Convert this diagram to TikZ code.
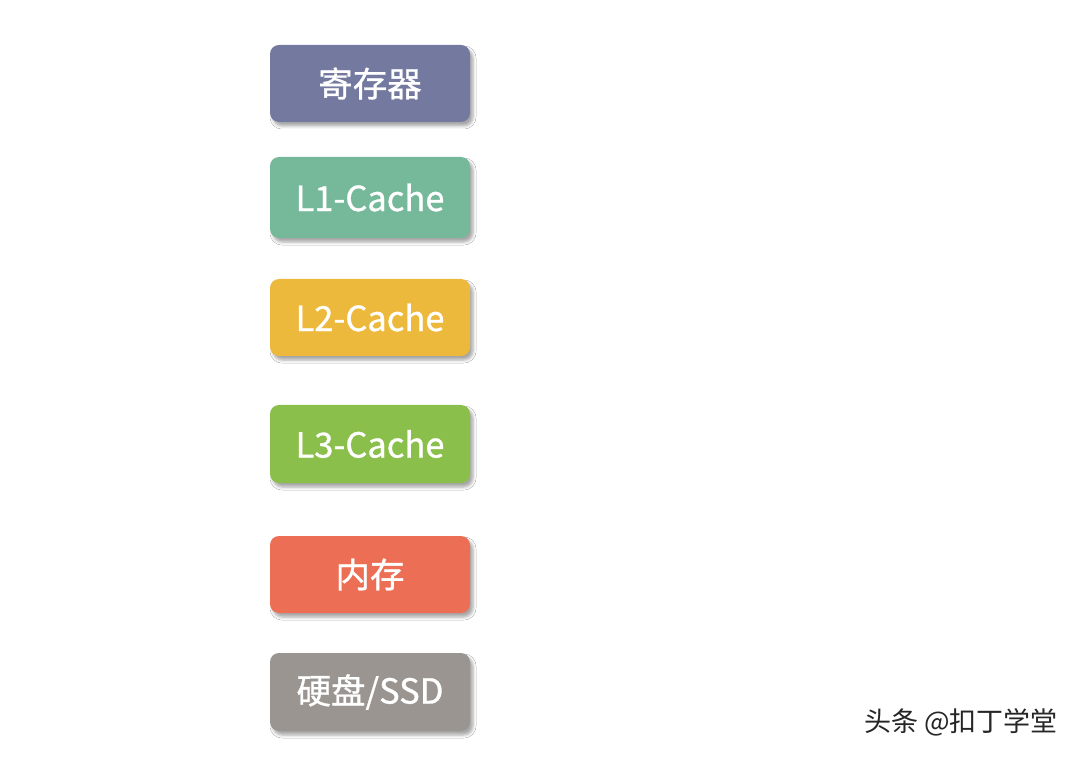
\documentclass[tikz,border=0pt]{standalone}
\usepackage{fontspec}
\setmainfont{Noto Sans CJK SC}
\newfontfamily\cjk{Noto Sans CJK SC}
\newfontfamily\cjkmed[FakeBold=0.9]{Noto Sans CJK SC}
\usetikzlibrary{shadows.blur}
\definecolor{cReg}{HTML}{7479A0}
\definecolor{cLone}{HTML}{76B89A}
\definecolor{cLtwo}{HTML}{EDB93D}
\definecolor{cLthree}{HTML}{8BBF4C}
\definecolor{cMem}{HTML}{EC6F55}
\definecolor{cDisk}{HTML}{9A9590}
\tikzset{
  membox/.style={rounded corners=9pt, minimum width=200pt, inner sep=0pt,
    text=white, font=\cjkmed\fontsize{34.5}{38}\selectfont,
    blur shadow={shadow xshift=3pt, shadow yshift=-4pt, shadow blur radius=3pt, shadow opacity=35}},
  wm/.style={font=\cjk\fontsize{27}{30}\selectfont, text=black!85, anchor=east, inner sep=0pt}
}
\begin{document}
\begin{tikzpicture}[x=1pt,y=-1pt]
\useasboundingbox[fill=white] (0,0) rectangle (1080,759);
\node[membox, fill=cReg, minimum height=77pt] (reg) at (370,83.5) {寄存器};
\node[membox, fill=cLone, minimum height=81pt] (l1) at (370,197.5) {L1-Cache};
\node[membox, fill=cLtwo, minimum height=77pt] (l2) at (370,317.5) {L2-Cache};
\node[membox, fill=cLthree, minimum height=78pt] (l3) at (370,444) {L3-Cache};
\node[membox, fill=cMem, minimum height=77pt] (mem) at (370,574.5) {内存};
\node[membox, fill=cDisk, minimum height=78pt] (disk) at (370,692) {硬盘/SSD};
\node[wm] (mark) at (1058,722) {头条 @扣丁学堂};
\end{tikzpicture}
\end{document}
